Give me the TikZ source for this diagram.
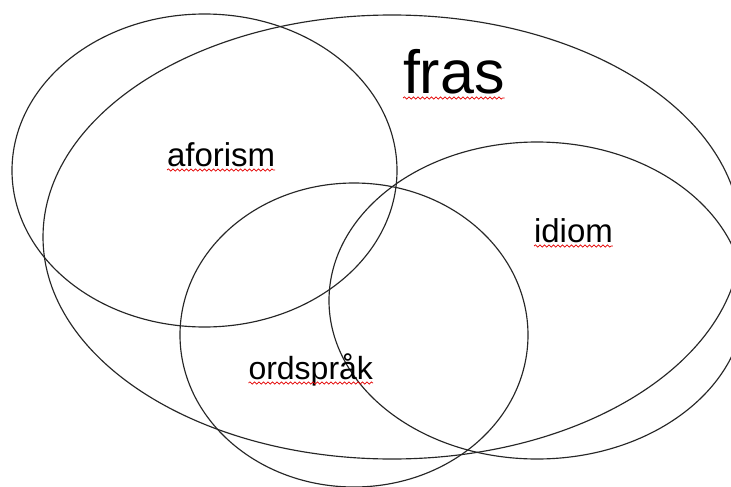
\documentclass[tikz,border=0pt]{standalone}
\usepackage{fontspec}
\setmainfont{Liberation Sans}
\usetikzlibrary{shapes.geometric,decorations.pathmorphing}
\tikzset{
  setring/.style={draw=black!85, line width=1.15pt, ellipse, inner sep=0pt, outer sep=0pt},
  lbl/.style={anchor=base west, inner sep=0pt, outer sep=0pt, text=black},
  spell/.style={draw=red!90!black, line width=0.7pt, decorate,
    decoration={snake, segment length=4.5pt, amplitude=1.1pt}}
}
\begin{document}
\begin{tikzpicture}[x=1pt,y=-1pt]
\useasboundingbox (0,0) rectangle (731,487);
\fill[white] (0,0) rectangle (731,487);
% sets
\node[setring, minimum width=698pt, minimum height=444pt] (fras) at (392,237) {};
\node[setring, minimum width=385pt, minimum height=313pt] (afor) at (204.5,170.5) {};
\node[setring, minimum width=416pt, minimum height=317pt] (idio) at (537,300.5) {};
\node[setring, minimum width=348pt, minimum height=304pt] (ords) at (354,335) {};
% labels
\node[lbl, font=\fontsize{61}{61}\selectfont] (tfras) at (403,93) {fras};
\node[lbl, font=\fontsize{33}{33}\selectfont] (tafor) at (167,166) {aforism};
\node[lbl, font=\fontsize{33}{33}\selectfont] (tidio) at (534,242) {idiom};
\node[lbl, font=\fontsize{32}{32}\selectfont] (tords) at (248.5,379) {ordspråk};
% spell-check underlines
\draw[spell] ([yshift=-5pt]tfras.base west) -- ([yshift=-5pt]tfras.base east);
\draw[spell] ([yshift=-4pt]tafor.base west) -- ([yshift=-4pt]tafor.base east);
\draw[spell] ([yshift=-4pt]tidio.base west) -- ([yshift=-4pt]tidio.base east);
\draw[spell] ([yshift=-4pt]tords.base west) -- ([yshift=-4pt]tords.base east);
\end{tikzpicture}
\end{document}
